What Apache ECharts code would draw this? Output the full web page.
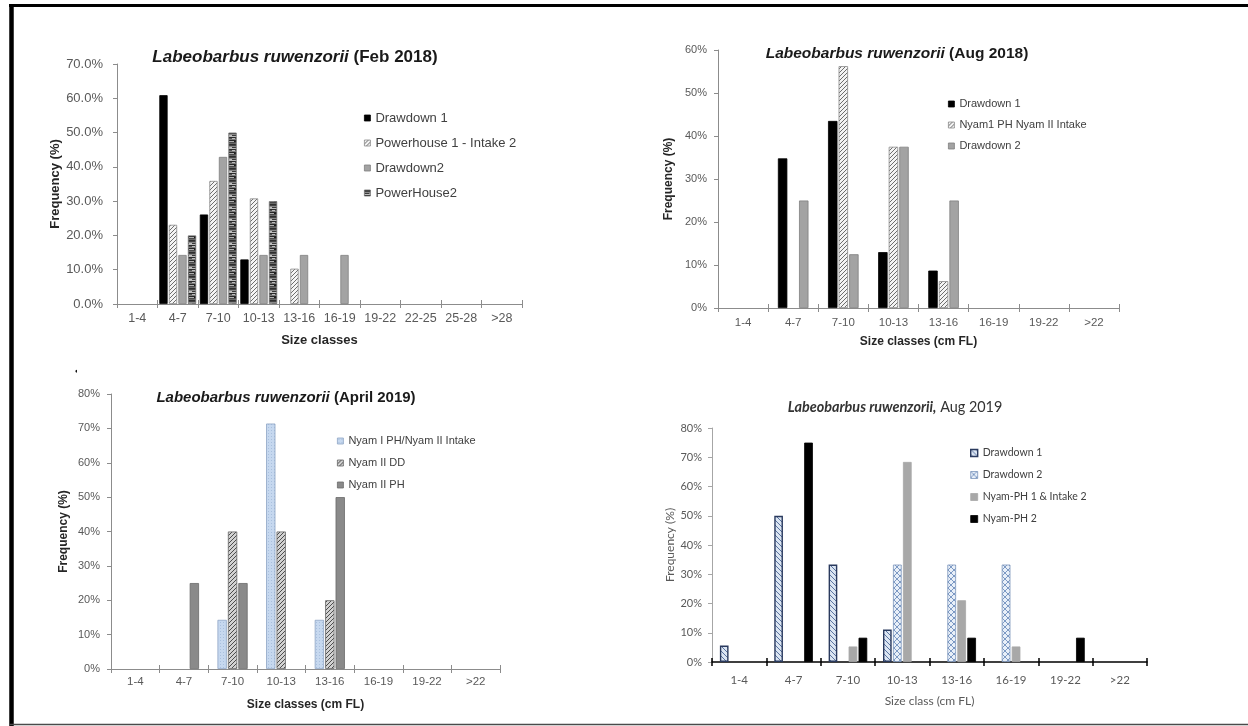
<!DOCTYPE html>
<html>
<head>
<meta charset="utf-8">
<title>Labeobarbus ruwenzorii size classes</title>
<script src="https://cdn.jsdelivr.net/npm/echarts@6/dist/echarts.min.js"></script>
<style>
  html, body { margin: 0; padding: 0; background: #ffffff; }
  #chart { width: 1248px; height: 726px; }
</style>
</head>
<body>
<div id="chart"></div>
<script>
// Size classes (cm FL)
const sizeClassesFeb18 = ['1-4', '4-7', '7-10', '10-13', '13-16', '16-19', '19-22', '22-25', '25-28', '>28'];
const sizeClasses = ['1-4', '4-7', '7-10', '10-13', '13-16', '16-19', '19-22', '>22'];

// Feb 2018 frequencies (%)
const feb18Drawdown1 = [0, 60.9, 26.1, 13.0, 0, 0, 0, 0, 0, 0];
const feb18Powerhouse1Intake2 = [0, 23.1, 35.9, 30.8, 10.3, 0, 0, 0, 0, 0];
const feb18Drawdown2 = [0, 14.3, 42.9, 14.3, 14.3, 14.3, 0, 0, 0, 0];
const feb18PowerHouse2 = [0, 20.0, 50.0, 30.0, 0, 0, 0, 0, 0, 0];

// Aug 2018 frequencies (%)
const aug18Drawdown1 = [0, 34.8, 43.5, 13.0, 8.7, 0, 0, 0];
const aug18Nyam1PHIntake = [0, 0, 56.25, 37.5, 6.25, 0, 0, 0];
const aug18Drawdown2 = [0, 25.0, 12.5, 37.5, 25.0, 0, 0, 0];

// April 2019 frequencies (%)
const apr19NyamIPH = [0, 0, 14.3, 71.4, 14.3, 0, 0, 0];
const apr19NyamIIDD = [0, 0, 40.0, 40.0, 20.0, 0, 0, 0];
const apr19NyamIIPH = [0, 25.0, 25.0, 0, 50.0, 0, 0, 0];

// Aug 2019 frequencies (%)
const aug19Drawdown1 = [5.6, 50.0, 33.3, 11.1, 0, 0, 0, 0];
const aug19Drawdown2 = [0, 0, 0, 33.3, 33.3, 33.3, 0, 0];
const aug19NyamPH1Intake2 = [0, 0, 5.3, 68.4, 21.1, 5.3, 0, 0];
const aug19NyamPH2 = [0, 75.0, 8.3, 0, 8.3, 0, 8.3, 0];

// ---- fill patterns -------------------------------------------------------
function tile(w, h, bg, draw) {
  const c = document.createElement('canvas');
  c.width = w; c.height = h;
  const g = c.getContext('2d');
  if (bg) { g.fillStyle = bg; g.fillRect(0, 0, w, h); }
  draw(g, w, h);
  return { image: c, repeat: 'repeat' };
}
function diagonal(bg, line, size, width, up) {
  return tile(size, size, bg, (g, w, h) => {
    g.strokeStyle = line; g.lineWidth = width; g.beginPath();
    if (up) {
      g.moveTo(-1, h + 1); g.lineTo(w + 1, -1);
      g.moveTo(-1, 1); g.lineTo(1, -1);
      g.moveTo(w - 1, h + 1); g.lineTo(w + 1, h - 1);
    } else {
      g.moveTo(-1, -1); g.lineTo(w + 1, h + 1);
      g.moveTo(w - 1, -1); g.lineTo(w + 1, 1);
      g.moveTo(-1, h - 1); g.lineTo(1, h + 1);
    }
    g.stroke();
  });
}
function crossHatch(bg, line, size, width) {
  return tile(size, size, bg, (g, w, h) => {
    g.strokeStyle = line; g.lineWidth = width; g.beginPath();
    g.moveTo(0, 0); g.lineTo(w, h);
    g.moveTo(0, h); g.lineTo(w, 0);
    g.stroke();
  });
}
function stripes() {
  const rows = ['#2f2f2f', '#444444', '#8a8a8a', '#3a3a3a', '#bcbcbc', '#2a2a2a',
                '#555555', '#7c7c7c', '#262626', '#b0b0b0', '#4a4a4a', '#6a6a6a'];
  return tile(8, rows.length, null, (g, w) => {
    rows.forEach((col, i) => { g.fillStyle = col; g.fillRect(0, i, w, 1); });
    g.fillStyle = '#bdbdbd'; g.fillRect(5, 3, 3, 1); g.fillRect(0, 6, 3, 1);
    g.fillStyle = '#1e1e1e'; g.fillRect(2, 9, 3, 1);
  });
}
function dotted(bg, dot) {
  return tile(3, 3, bg, (g) => { g.fillStyle = dot; g.fillRect(1, 1, 1, 1); });
}

const ARIAL = '"Liberation Sans", Arial, sans-serif';
const CALIBRI = 'Lato, "Open Sans", sans-serif';

// ---- panel layout --------------------------------------------------------
const panels = [
  {
    grid: { left: 117, top: 64, width: 405, height: 240 },
    categories: sizeClassesFeb18,
    yMax: 70, yDecimals: 1,
    font: ARIAL, tickSize: 13, xTickSize: 12.5, nameSize: 13, nameBold: true,
    xName: 'Size classes', xNameGap: 30, yNameGap: 51, labelMargin: 8, yLabelMargin: 14,
    axisColor: '#8c8c8c', xAxisColor: '#8c8c8c', xAxisWidth: 1,
    barCategoryGap: '9%', barGap: '15%',
    title: { x: 295, y: 57, size: 17, italic: 'Labeobarbus ruwenzorii', rest: ' (Feb 2018)', restBold: true, font: ARIAL, color: '#1a1a1a' },
    legend: { left: 359, top: 106, itemGap: 11, size: 13, icon: 6 },
    series: [
      { name: 'Drawdown 1', data: feb18Drawdown1, color: '#000000', border: '#000000' },
      { name: 'Powerhouse 1 - Intake 2', data: feb18Powerhouse1Intake2, color: diagonal('#f4f4f4', '#6e6e6e', 4, 1, true), border: '#8a8a8a' },
      { name: 'Drawdown2', data: feb18Drawdown2, color: '#a3a3a3', border: '#7f7f7f' },
      { name: 'PowerHouse2', data: feb18PowerHouse2, color: stripes(), border: '#6f6f6f' }
    ]
  },
  {
    grid: { left: 718, top: 50, width: 401, height: 258 },
    categories: sizeClasses,
    yMax: 60, yDecimals: 0,
    font: ARIAL, tickSize: 11, xTickSize: 11.5, nameSize: 12, nameBold: true,
    xName: 'Size classes (cm FL)', xNameGap: 28, yNameGap: 43, labelMargin: 9, yLabelMargin: 11,
    axisColor: '#8c8c8c', xAxisColor: '#8c8c8c', xAxisWidth: 1,
    barCategoryGap: '39%', barGap: '12%',
    title: { x: 897, y: 54, size: 15.5, italic: 'Labeobarbus ruwenzorii', rest: ' (Aug 2018)', restBold: true, font: ARIAL, color: '#1a1a1a' },
    legend: { left: 943, top: 92, itemGap: 7, size: 11, icon: 6 },
    series: [
      { name: 'Drawdown 1', data: aug18Drawdown1, color: '#000000', border: '#000000' },
      { name: 'Nyam1 PH Nyam II Intake', data: aug18Nyam1PHIntake, color: diagonal('#f4f4f4', '#6e6e6e', 4, 1, true), border: '#8a8a8a' },
      { name: 'Drawdown 2', data: aug18Drawdown2, color: '#a3a3a3', border: '#7f7f7f' }
    ]
  },
  {
    grid: { left: 111, top: 394, width: 389, height: 275 },
    categories: sizeClasses,
    yMax: 80, yDecimals: 0,
    font: ARIAL, tickSize: 11, xTickSize: 11.5, nameSize: 12, nameBold: true,
    xName: 'Size classes (cm FL)', xNameGap: 30, yNameGap: 41, labelMargin: 7, yLabelMargin: 11,
    axisColor: '#8c8c8c', xAxisColor: '#8c8c8c', xAxisWidth: 1,
    barCategoryGap: '38%', barGap: '12%',
    title: { x: 286, y: 398, size: 15, italic: 'Labeobarbus ruwenzorii', rest: ' (April 2019)', restBold: true, font: ARIAL, color: '#1a1a1a' },
    legend: { left: 332, top: 429, itemGap: 8, size: 11, icon: 6 },
    series: [
      { name: 'Nyam I PH/Nyam II Intake', data: apr19NyamIPH, color: dotted('#c6d8ef', '#a9c0de'), border: '#8ea4c4' },
      { name: 'Nyam II DD', data: apr19NyamIIDD, color: diagonal('#d2d2d2', '#4d4d4d', 4, 1, true), border: '#666666' },
      { name: 'Nyam II PH', data: apr19NyamIIPH, color: '#8a8a8a', border: '#6a6a6a' }
    ]
  },
  {
    grid: { left: 712, top: 428, width: 435, height: 234 },
    categories: sizeClasses,
    yMax: 80, yDecimals: 0,
    font: CALIBRI, tickSize: 11, xTickSize: 11.5, nameSize: 12, nameBold: false,
    xName: 'Size class (cm FL)', xNameGap: 33, yNameGap: 33, labelMargin: 12, yLabelMargin: 10,
    axisColor: '#a6a6a6', xAxisColor: '#000000', xAxisWidth: 1.5,
    barCategoryGap: '29%', barGap: '15%',
    title: { x: 895, y: 407, size: 14.4, italic: 'Labeobarbus ruwenzorii,', rest: ' Aug 2019', restBold: false, font: CALIBRI, color: '#333333' },
    legend: { left: 965, top: 441, itemGap: 8, size: 10.5, icon: 7 },
    series: [
      { name: 'Drawdown 1', data: aug19Drawdown1, color: diagonal('#dbe5f2', '#5a74a2', 5, 1, false), border: '#2a3a5e', borderWidth: 1.4 },
      { name: 'Drawdown 2', data: aug19Drawdown2, color: crossHatch('#e8eff8', '#6f8fbd', 6, 0.9), border: '#7d97bd' },
      { name: 'Nyam-PH 1 & Intake 2', data: aug19NyamPH1Intake2, color: '#a8a8a8', border: '#a8a8a8' },
      { name: 'Nyam-PH 2', data: aug19NyamPH2, color: '#000000', border: '#000000' }
    ]
  }
];

// ---- build option --------------------------------------------------------
const grids = [], xAxes = [], yAxes = [], series = [], legends = [], graphics = [];

panels.forEach((p, i) => {
  grids.push(Object.assign({ containLabel: false }, p.grid));

  // main category axis: labels, line and outward ticks
  xAxes.push({
    type: 'category', gridIndex: i, data: p.categories, position: 'bottom',
    name: p.xName, nameLocation: 'middle', nameGap: p.xNameGap,
    nameTextStyle: { fontFamily: p.font, fontSize: p.nameSize, fontWeight: p.nameBold ? 'bold' : 'normal', color: p.nameBold ? '#262626' : '#595959' },
    axisLine: { show: true, lineStyle: { color: p.xAxisColor, width: p.xAxisWidth } },
    axisTick: { show: true, inside: false, length: 4, alignWithLabel: false, lineStyle: { color: p.xAxisColor, width: p.xAxisWidth } },
    axisLabel: { fontFamily: p.font, fontSize: p.xTickSize, color: '#595959', margin: p.labelMargin, interval: 0 },
    splitLine: { show: false }
  });
  // companion axis: inward half of the crossing tick marks
  xAxes.push({
    type: 'category', gridIndex: i, data: p.categories, position: 'bottom',
    axisLine: { show: false },
    axisTick: { show: true, inside: true, length: 4, alignWithLabel: false, lineStyle: { color: p.xAxisColor, width: p.xAxisWidth } },
    axisLabel: { show: false },
    splitLine: { show: false }
  });

  yAxes.push({
    type: 'value', gridIndex: i, min: 0, max: p.yMax, interval: 10,
    name: 'Frequency (%)', nameLocation: 'middle', nameRotate: 90, nameGap: p.yNameGap,
    nameTextStyle: { fontFamily: p.font, fontSize: p.nameSize, fontWeight: p.nameBold ? 'bold' : 'normal', color: p.nameBold ? '#262626' : '#595959' },
    axisLine: { show: true, lineStyle: { color: p.axisColor, width: 1 } },
    axisTick: { show: true, inside: false, length: 4, lineStyle: { color: p.axisColor } },
    axisLabel: {
      fontFamily: p.font, fontSize: p.tickSize, color: '#595959', margin: p.yLabelMargin,
      formatter: (v) => v.toFixed(p.yDecimals) + '%'
    },
    splitLine: { show: false }
  });

  const legendData = [];
  p.series.forEach((s) => {
    const itemStyle = { color: s.color, borderColor: s.border, borderWidth: s.borderWidth || 0.8 };
    series.push({
      type: 'bar', name: s.name,
      // empty classes are left blank rather than drawn as flat outlined bars
      data: s.data.map((v) => (v === 0 ? null : v)),
      xAxisIndex: 2 * i, yAxisIndex: i,
      barGap: p.barGap, barCategoryGap: p.barCategoryGap,
      itemStyle: itemStyle,
      emphasis: { disabled: true },
      animation: false
    });
    legendData.push({ name: s.name, itemStyle: itemStyle, icon: 'rect' });
  });

  legends.push({
    orient: 'vertical', left: p.legend.left, top: p.legend.top,
    itemWidth: p.legend.icon, itemHeight: p.legend.icon, itemGap: p.legend.itemGap,
    selectedMode: false, data: legendData,
    textStyle: { fontFamily: p.font, fontSize: p.legend.size, color: '#404040', lineHeight: 14 }
  });

  const t = p.title;
  graphics.push({
    type: 'text', x: t.x, y: t.y,
    style: {
      text: '{i|' + t.italic + '}{r|' + t.rest + '}',
      align: 'center', verticalAlign: 'middle',
      rich: {
        i: { fontFamily: t.font, fontSize: t.size, fontStyle: 'italic', fontWeight: 'bold', fill: t.color },
        r: { fontFamily: t.font, fontSize: t.size, fontWeight: t.restBold ? 'bold' : 'normal', fill: t.color }
      }
    }
  });
});

// page frame
graphics.push(
  { type: 'line', shape: { x1: 11.5, y1: 4, x2: 11.5, y2: 726 }, style: { stroke: '#000000', lineWidth: 4.5 } },
  { type: 'line', shape: { x1: 9, y1: 5.5, x2: 1248, y2: 5.5 }, style: { stroke: '#000000', lineWidth: 3 } },
  { type: 'line', shape: { x1: 9, y1: 724.5, x2: 1248, y2: 724.5 }, style: { stroke: '#4a4a4a', lineWidth: 1.5 } },
  { type: 'text', x: 76, y: 371, style: { text: '\u25D6', fontSize: 7, fill: '#000000', align: 'center', verticalAlign: 'middle' } }
);

const chart = echarts.init(document.getElementById('chart'), null, { renderer: 'canvas' });
chart.setOption({
  backgroundColor: '#ffffff',
  animation: false,
  grid: grids,
  xAxis: xAxes,
  yAxis: yAxes,
  legend: legends,
  series: series,
  graphic: graphics
});
</script>
</body>
</html>
